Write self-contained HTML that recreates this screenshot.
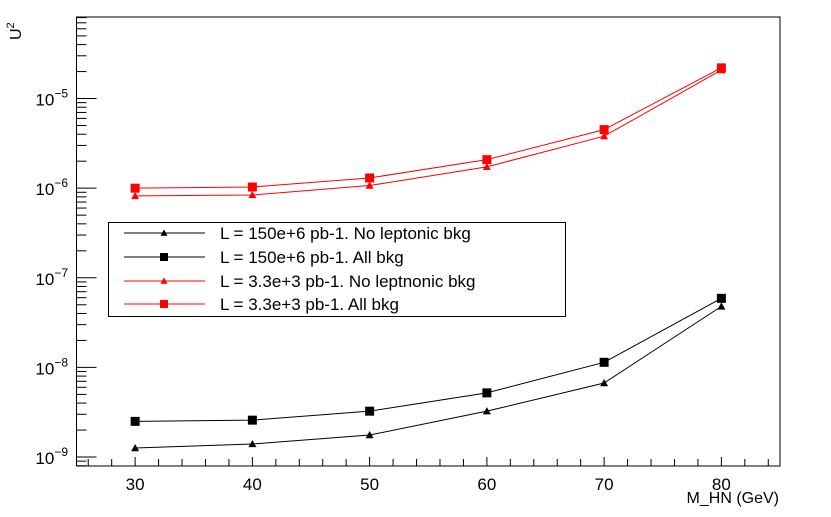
<!DOCTYPE html>
<html><head><meta charset="utf-8"><style>
body{margin:0;background:#fff;}
svg{display:block;font-family:"Liberation Sans",Arial,sans-serif;}
</style></head><body>
<svg id="chart" width="831" height="517" viewBox="0 0 831 517" xmlns="http://www.w3.org/2000/svg">
<rect width="831" height="517" fill="#fff"/>
<g id="g"></g>
</svg>
<script>
const masses = [30, 40, 50, 60, 70, 80];
const blackTri = [1.26e-9, 1.4e-9, 1.76e-9, 3.25e-9, 6.7e-9, 4.8e-8];
const blackSq = [2.5e-9, 2.58e-9, 3.25e-9, 5.2e-9, 1.14e-8, 5.9e-8];
const redTri = [0.82e-6, 0.84e-6, 1.07e-6, 1.73e-6, 3.8e-6, 2.08e-5];
const redSq = [1.0e-6, 1.03e-6, 1.3e-6, 2.08e-6, 4.5e-6, 2.2e-5];
const xTicks = [30, 40, 50, 60, 70, 80];
const yDecades = [-9, -8, -7, -6, -5];
const legendLabels = ["L = 150e+6 pb-1. No leptonic bkg","L = 150e+6 pb-1. All bkg","L = 3.3e+3 pb-1. No leptnonic bkg","L = 3.3e+3 pb-1. All bkg"];

const L=76.5,R=780,T=17,B=466;
const xMin=25,xMax=85,yMin=-9.1,yMax=-4.09;
const X=v=>L+(v-xMin)/(xMax-xMin)*(R-L);
const Y=v=>B-(Math.log10(v)-yMin)/(yMax-yMin)*(B-T);
const NS="http://www.w3.org/2000/svg";
const g=document.getElementById('g');
function mk(t,a,p){const e=document.createElementNS(NS,t);for(const k in a)e.setAttribute(k,a[k]);(p||g).appendChild(e);return e;}

// frame
const fr=mk('rect',{x:L,y:T,width:R-L,height:B-T,fill:'none',stroke:'#000','stroke-width':1});



// x ticks
for(let v=26;v<=84;v+=2){
  const major=v%10===0;
  const t=mk('line',{x1:X(v),x2:X(v),y1:B,y2:B-(major?9:7),stroke:'#000'});
  
  
}
xTicks.forEach(v=>{
  const t=mk('text',{x:X(v),y:490,'font-size':17,'text-anchor':'middle'});
  t.textContent=v;
  
  
});
// y ticks
for(let d=-10;d<=-4;d++){
  for(let m=1;m<=9;m++){
    const v=m*Math.pow(10,d);const yy=Y(v);
    if(yy<T||yy>B)continue;
    const t=mk('line',{x1:L,x2:L+(m===1?20:10),y1:yy,y2:yy,stroke:'#000'});
    
    
  }
}
yDecades.forEach(d=>{
  const yy=Y(Math.pow(10,d));
  const t=mk('text',{x:68,y:yy+7,'font-size':17,'text-anchor':'end'});
  t.textContent='10';
  const s=mk('tspan',{dy:-8,'font-size':12},t);s.textContent='\u2212'+(-d);
  
  
});
const xt=mk('text',{x:779,y:503,'font-size':16,'text-anchor':'end'});xt.textContent='M_HN (GeV)';


const yt=mk('text',{x:0,y:0,'font-size':16,transform:'translate(21,40) rotate(-90)'});yt.textContent='U';
const ys=mk('tspan',{dy:-7,'font-size':11},yt);ys.textContent='2';



function marker(x,y,type,col,size,name){
  let e;
  if(type==='sq'){e=mk('rect',{x:x-size,y:y-size,width:2*size,height:2*size,fill:col});}
  else{e=mk('polygon',{points:`${x},${y-size} ${x-size},${y+size*0.8} ${x+size},${y+size*0.8}`,fill:col});}
  
  
}
function series(vals,col,type,name){
  const pl=mk('polyline',{points:masses.map((m,i)=>X(m)+','+Y(vals[i])).join(' '),fill:'none',stroke:col,'stroke-width':1});
  
  
  masses.forEach((m,i)=>marker(X(m),Y(vals[i]),type,col,type==='sq'?4.5:4,name+'-point'));
}
series(blackTri,'#000','tri','black-triangle-series');
series(blackSq,'#000','sq','black-square-series');
series(redTri,'#f00','tri','red-triangle-series');
series(redSq,'#f00','sq','red-square-series');

// legend
const lb=mk('rect',{x:108.5,y:222.5,width:457,height:94,fill:'#fff',stroke:'#000'});


const lcols=['#000','#000','#f00','#f00'],ltypes=['tri','sq','tri','sq'],lys=[233,257,281,304];
legendLabels.forEach((s,i)=>{
  const ln=mk('line',{x1:124,x2:205,y1:lys[i],y2:lys[i],stroke:lcols[i]});
  
  
  marker(164,lys[i],ltypes[i],lcols[i],ltypes[i]==='sq'?4:3.5,'legend-marker');
  const t=mk('text',{x:220,y:lys[i]+6,'font-size':17});t.textContent=s;
  
  
});
</script>
</body></html>
